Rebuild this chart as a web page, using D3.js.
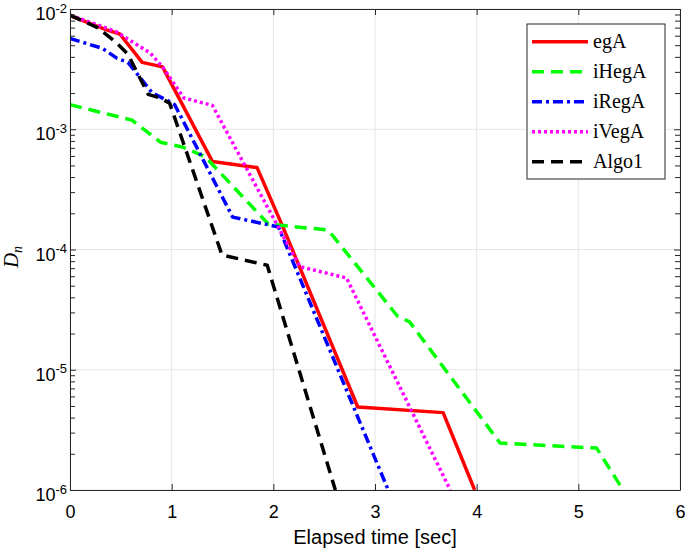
<!DOCTYPE html>
<html>
<head>
<meta charset="utf-8">
<script src="https://cdn.jsdelivr.net/npm/d3@7"></script>
<style>
  body { margin: 0; background: #fff; }
  svg { display: block; font-family: "Liberation Sans", Arial, Helvetica, sans-serif; }
</style>
</head>
<body>
<svg id="chart" width="685" height="549"></svg>
<script>
// ---- data ----
const seriesNames = ["egA", "iHegA", "iRegA", "iVegA", "Algo1"];
const egA_t   = [0, 0.36, 0.49, 0.71, 0.91, 1.40, 1.84, 2.10, 2.83, 3.67, 3.98];
const egA_D   = [8.8e-3, 6.7e-3, 6.2e-3, 3.6e-3, 3.3e-3, 5.4e-4, 4.8e-4, 1.5e-4, 4.9e-6, 4.4e-6, 1.0e-6];
const iHegA_t = [0, 0.61, 0.89, 1.11, 1.33, 1.95, 2.54, 3.22, 3.34, 4.23, 5.18, 5.44];
const iHegA_D = [1.6e-3, 1.19e-3, 7.8e-4, 7.1e-4, 5.9e-4, 1.63e-4, 1.45e-4, 2.8e-5, 2.5e-5, 2.46e-6, 2.23e-6, 1.0e-6];
const iRegA_t = [0, 0.32, 0.46, 0.57, 0.81, 0.95, 1.03, 1.60, 2.05, 3.13];
const iRegA_D = [5.7e-3, 4.7e-3, 3.9e-3, 3.6e-3, 2.0e-3, 1.75e-3, 1.6e-3, 1.86e-4, 1.54e-4, 1.0e-6];
const iVegA_t = [0, 0.45, 0.79, 0.91, 1.12, 1.40, 2.26, 2.72, 3.74];
const iVegA_D = [8.9e-3, 6.5e-3, 4.3e-3, 3.3e-3, 1.82e-3, 1.58e-3, 7.2e-5, 5.8e-5, 1.0e-6];
const Algo1_t = [0, 0.27, 0.45, 0.57, 0.77, 0.885, 0.98, 1.495, 1.94, 2.61];
const Algo1_D = [8.9e-3, 7.0e-3, 5.3e-3, 4.2e-3, 1.95e-3, 1.82e-3, 1.65e-3, 9.0e-5, 7.4e-5, 1.0e-6];
const xTicks = [0, 1, 2, 3, 4, 5, 6];
const yExponents = [-6, -5, -4, -3, -2];
const xLabel = "Elapsed time [sec]";

// ---- styles ----
const serif = "'Liberation Serif', 'Times New Roman', serif";
const sans = "'Liberation Sans', Arial, sans-serif";
const styles = {
  egA:   { color: "#ff0000", dash: null },
  iHegA: { color: "#00ff00", dash: "12,7" },
  iRegA: { color: "#0000ff", dash: "10,4,3,4" },
  iVegA: { color: "#ff00ff", dash: "3,3" },
  Algo1: { color: "#000000", dash: "12,7" }
};
const seriesData = {
  egA: d3.zip(egA_t, egA_D),
  iHegA: d3.zip(iHegA_t, iHegA_D),
  iRegA: d3.zip(iRegA_t, iRegA_D),
  iVegA: d3.zip(iVegA_t, iVegA_D),
  Algo1: d3.zip(Algo1_t, Algo1_D)
};

const L = 70, R = 680, T = 9, B = 490;
const svg = d3.select("#chart");
const x = d3.scaleLinear().domain([0, 6]).range([L, R]);
const y = d3.scaleLog().domain([1e-6, 1e-2]).range([B, T]);
const axisColor = "#262626";
const majorY = yExponents.map(e => Math.pow(10, e));
const minorY = [];
yExponents.slice(0, -1).forEach(e => { for (let k = 2; k <= 9; k++) minorY.push(k * Math.pow(10, e)); });

// grid
const grid = svg.append("g").attr("stroke", "#e6e6e6").attr("stroke-width", 1);
xTicks.forEach(t => grid.append("line").attr("x1", x(t)).attr("x2", x(t)).attr("y1", T).attr("y2", B));
majorY.forEach(v => grid.append("line").attr("x1", L).attr("x2", R).attr("y1", y(v)).attr("y2", y(v)));

// clip
svg.append("clipPath").attr("id", "clip").append("rect")
  .attr("x", L).attr("y", T).attr("width", R - L).attr("height", B - T);

// lines
const line = d3.line().x(d => x(d[0])).y(d => y(d[1]));
const linesG = svg.append("g").attr("clip-path", "url(#clip)");
seriesNames.forEach(name => {
  const st = styles[name];
  linesG.append("path")
    .datum(seriesData[name])
    .attr("d", line)
    .attr("fill", "none")
    .attr("stroke", st.color)
    .attr("stroke-width", 3.5)
    .attr("stroke-linejoin", "round")
    .attr("stroke-dasharray", st.dash);
});

// axes
function styleAxis(g) {
  g.selectAll(".domain").attr("stroke", axisColor).attr("stroke-width", 1);
  g.selectAll(".tick line").attr("stroke", axisColor).attr("stroke-width", 1);
}
const xb = svg.append("g").attr("transform", `translate(0,${B})`)
  .call(d3.axisBottom(x).tickValues(xTicks).tickSize(-6).tickSizeOuter(0).tickPadding(15).tickFormat(d3.format("d")));
xb.selectAll("text").style("font-size", "18px").style("font-family", sans).attr("fill", "#000");
styleAxis(xb);
const xt = svg.append("g").attr("transform", `translate(0,${T})`)
  .call(d3.axisTop(x).tickValues(xTicks).tickSize(-6).tickSizeOuter(0).tickFormat(""));
styleAxis(xt);

const yl = svg.append("g").attr("transform", `translate(${L},0)`)
  .call(d3.axisLeft(y).tickValues(majorY).tickSize(-6).tickSizeOuter(0).tickFormat(""));
styleAxis(yl);
yl.selectAll(".tick").each(function(d) {
  const e = Math.round(Math.log10(d));
  const t = d3.select(this).append("text")
    .attr("x", -3).attr("y", 10.5).attr("text-anchor", "end")
    .attr("fill", "#000")
    .style("font-size", "18px").style("font-family", sans);
  t.append("tspan").text("10");
  t.append("tspan").style("font-size", "13px").attr("dy", -7.5).text(String(e));
});
const ylm = svg.append("g").attr("transform", `translate(${L},0)`)
  .call(d3.axisLeft(y).tickValues(minorY).tickSize(-5).tickSizeOuter(0).tickFormat(""));
styleAxis(ylm); ylm.select(".domain").remove();
const yr = svg.append("g").attr("transform", `translate(${R},0)`)
  .call(d3.axisRight(y).tickValues(majorY).tickSize(-6).tickSizeOuter(0).tickFormat(""));
styleAxis(yr);
const yrm = svg.append("g").attr("transform", `translate(${R},0)`)
  .call(d3.axisRight(y).tickValues(minorY).tickSize(-5).tickSizeOuter(0).tickFormat(""));
styleAxis(yrm); yrm.select(".domain").remove();

// axis labels
svg.append("text").attr("x", (L + R) / 2).attr("y", 544).attr("text-anchor", "middle")
  .style("font-size", "20px").style("font-family", sans)
  .attr("fill", "#000").text(xLabel);
const ylab = svg.append("text")
  .attr("transform", "translate(18,257) rotate(-90)")
  .attr("text-anchor", "middle")
  .style("font-family", serif)
  .attr("fill", "#000");
ylab.append("tspan").style("font-style", "italic").style("font-size", "21px").text("D");
ylab.append("tspan").style("font-style", "italic").style("font-size", "14px").attr("dy", 4).text("n");

// legend
const lg = svg.append("g");
lg.append("rect").attr("x", 527).attr("y", 24).attr("width", 138).attr("height", 155)
  .attr("fill", "#fff").attr("stroke", axisColor).attr("stroke-width", 1);
seriesNames.forEach((name, i) => {
  const cy = 41.7 + i * 30;
  const st = styles[name];
  lg.append("line").attr("x1", 532).attr("x2", 588).attr("y1", cy).attr("y2", cy)
    .attr("stroke", st.color).attr("stroke-width", 3.5).attr("stroke-dasharray", st.dash);
  lg.append("text").attr("x", 593).attr("y", cy + 6.5)
    .style("font-family", serif)
    .style("font-size", "20px").attr("fill", "#000").text(name);
});
</script>
</body>
</html>
